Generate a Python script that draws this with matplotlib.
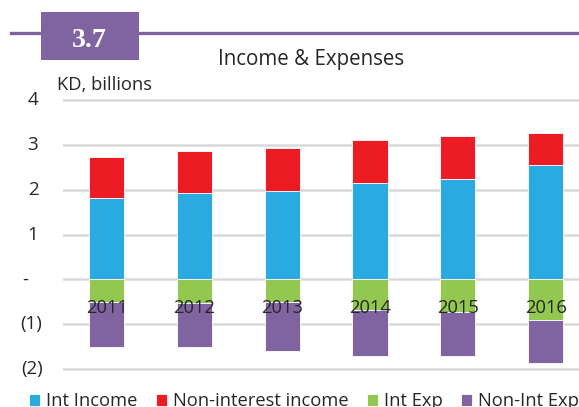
import matplotlib
matplotlib.use("Agg")
import matplotlib.pyplot as plt
from matplotlib.patches import Rectangle
import numpy as np

plt.rcParams['font.family'] = ['Open Sans', 'DejaVu Sans']

years = ["2011", "2012", "2013", "2014", "2015", "2016"]
int_income = [1.83, 1.92, 1.98, 2.15, 2.24, 2.55]
non_int_income = [0.91, 0.96, 0.96, 0.96, 0.97, 0.72]
int_exp = [-0.50, -0.53, -0.51, -0.69, -0.72, -0.92]
non_int_exp = [-1.02, -0.98, -1.09, -1.03, -1.00, -0.96]

y_ticks = [-2, -1, 0, 1, 2, 3, 4]
y_tick_labels = ["(2)", "(1)", "-", "1", "2", "3", "4"]

c_blue = "#29ABE2"
c_red = "#ED1C24"
c_green = "#92C84F"
c_purple = "#8064A2"
c_grid = "#D9D9D9"
c_text = "#262626"

W, H = 579, 407
fig = plt.figure(figsize=(W / 100, H / 100), dpi=100)


def fx(px):
    return px / W


def fy(py):
    return 1 - py / H


# header band with the figure number
fig.add_artist(plt.Line2D([fx(11), 1.0], [fy(33), fy(33)],
                          color=c_purple, lw=2.4, transform=fig.transFigure))
fig.add_artist(Rectangle((fx(40.6), fy(60)), 98 / W, 48 / H,
                         facecolor=c_purple, edgecolor="none",
                         transform=fig.transFigure, zorder=3))
fig.text(fx(89.6), fy(47), "3.7", color="white", fontsize=20,
         fontweight="bold", family="Liberation Serif",
         ha="center", va="baseline", zorder=4)

fig.text(fx(311), fy(65), "Income & Expenses", fontsize=14.8,
         color=c_text, ha="center", va="baseline")
fig.text(fx(57), fy(90), "KD, billions", fontsize=13.2,
         color=c_text, ha="left", va="baseline")

ax = fig.add_axes([fx(62.7), 0.0830, 1 - fx(62.7), 0.7641 - 0.0830])
x = np.arange(len(years))
bw = 0.4
kw = dict(width=bw, edgecolor="white", linewidth=0.6)
b1 = ax.bar(x, int_income, color=c_blue, label="Int Income", **kw)
b2 = ax.bar(x, non_int_income, bottom=int_income, color=c_red,
            label="Non-interest income", **kw)
b3 = ax.bar(x, int_exp, color=c_green, label="Int Exp", **kw)
b4 = ax.bar(x, non_int_exp, bottom=int_exp, color=c_purple,
            label="Non-Int Exp", **kw)

ax.set_xlim(-0.5, 5.38)
ax.set_ylim(-2.1, 4.1)
ax.set_yticks(y_ticks)
ax.yaxis.grid(True, color=c_grid, lw=1.8)
ax.set_axisbelow(True)
for s in ["top", "right", "left", "bottom"]:
    ax.spines[s].set_visible(False)
ax.set_xticks([])
ax.tick_params(axis="y", length=0, labelleft=False)

# value axis labels in accounting style: negatives in brackets, zero as a dash
ytrans = ax.get_yaxis_transform()
for v, lab in zip(y_ticks, y_tick_labels):
    if lab == "-":
        off = -34.7
    elif lab.startswith("("):
        off = -20.2
    else:
        off = -24.4
    ax.annotate(lab, (0, v), xycoords=ytrans, xytext=(off, 0),
                textcoords="offset pixels", ha="right", va="center",
                fontsize=13.5, color=c_text, annotation_clip=False)

# category labels sit just under the zero line, over the bars
for xi, yr in zip(x, years):
    ax.annotate(yr, (xi, 0), xytext=(0, -33.7), textcoords="offset pixels",
                ha="center", va="baseline", fontsize=13.2, color=c_text,
                zorder=5)

fig.legend(handles=[b1, b2, b3, b4], loc="center left",
           bbox_to_anchor=(fx(29), fy(401.5)), ncol=4, frameon=False,
           fontsize=13.2, handlelength=0.6, handleheight=0.6,
           handletextpad=0.33, columnspacing=1.0, borderaxespad=0,
           borderpad=0, labelcolor=c_text)

fig.savefig("out.png", dpi=100)
